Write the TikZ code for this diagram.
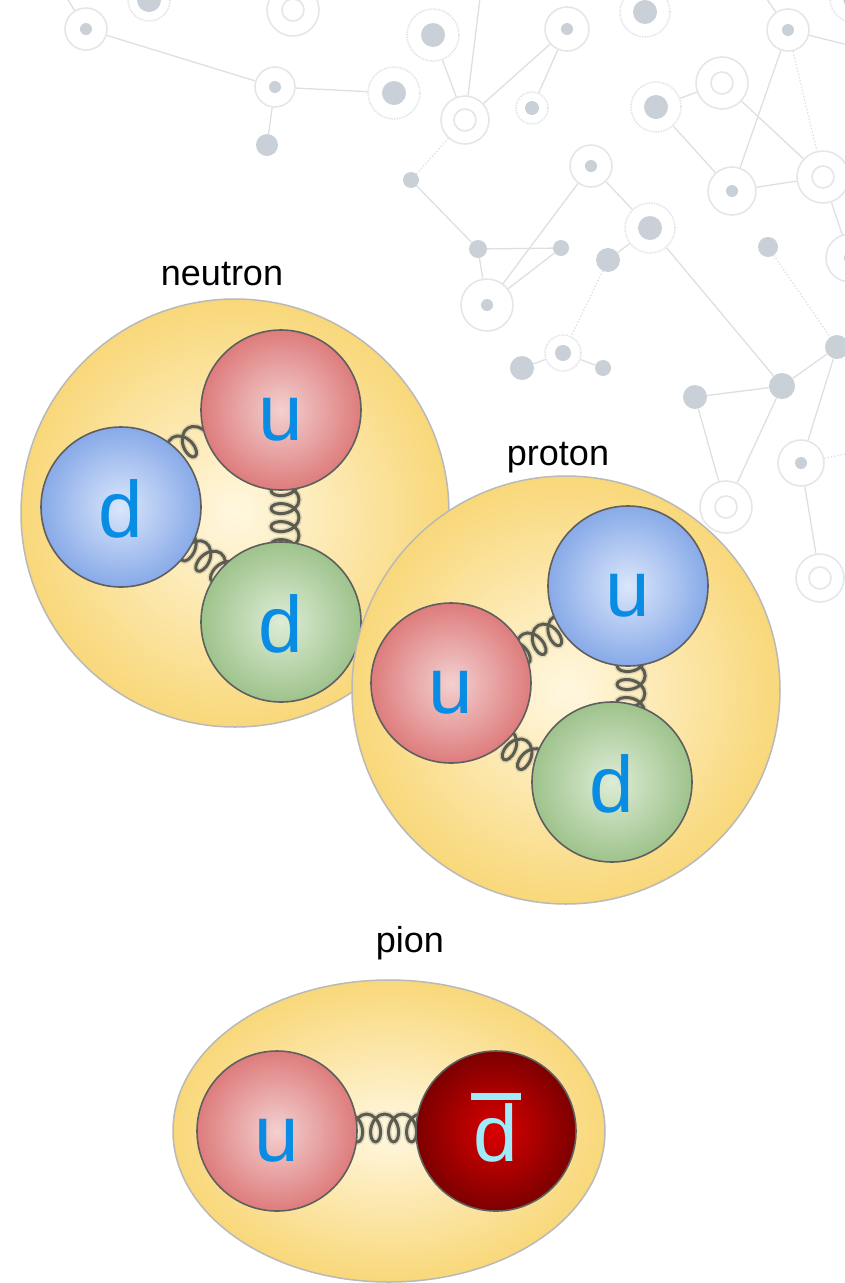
\documentclass[tikz,border=0pt]{standalone}
\usepackage{fontspec}
\setmainfont{Liberation Sans}
\usetikzlibrary{calc,shapes.geometric,decorations.pathmorphing}

\definecolor{hadronedge}{RGB}{249,216,122}
\definecolor{hadroncore}{RGB}{255,247,224}
\definecolor{hadronrim}{RGB}{185,185,185}
\definecolor{quarkrim}{RGB}{95,95,95}
\definecolor{redcore}{RGB}{243,208,208}
\definecolor{rededge}{RGB}{222,124,124}
\definecolor{bluecore}{RGB}{218,230,251}
\definecolor{blueedge}{RGB}{136,170,232}
\definecolor{greencore}{RGB}{222,236,214}
\definecolor{greenedge}{RGB}{158,195,140}
\definecolor{darkcore}{RGB}{218,0,0}
\definecolor{darkedge}{RGB}{125,0,0}
\definecolor{quarktext}{RGB}{8,140,228}
\definecolor{antitext}{RGB}{160,235,250}
\definecolor{gluoncol}{RGB}{92,92,78}
\definecolor{netline}{RGB}{221,223,226}
\definecolor{netrim}{RGB}{228,230,233}
\definecolor{netdot}{RGB}{201,208,215}

\tikzset{
	hadron/.style={draw=hadronrim, line width=1.5pt, inner color=hadroncore, outer color=hadronedge},
	quark/.style={circle, minimum size=160pt, inner sep=0pt, draw=quarkrim, line width=1.6pt},
	redq/.style={quark, inner color=redcore, outer color=rededge},
	blueq/.style={quark, inner color=bluecore, outer color=blueedge},
	greenq/.style={quark, inner color=greencore, outer color=greenedge},
	antiq/.style={quark, inner color=darkcore, outer color=darkedge},
	flavour/.style={anchor=base, inner sep=0pt, text=quarktext, font=\fontsize{80}{96}\selectfont},
	hadname/.style={anchor=base, inner sep=0pt, font=\fontsize{36}{43}\selectfont},
	gluon/.style={draw=gluoncol, line width=3pt, line join=round,
		preaction={draw=gluoncol!60, line width=6pt, opacity=0.3},
		decorate, decoration={coil, amplitude=14pt, segment length=18pt, aspect=0.65}},
	% background network
	net/.style={draw=netline, line width=1.3pt},
	ring/.style={circle, draw=netrim, line width=1.6pt, fill=white, inner sep=0pt, minimum size=42pt,
		path picture={\fill[netdot] (path picture bounding box.center) circle (6pt);}},
	halo/.style={circle, draw=netrim, densely dotted, line width=1.6pt, fill=white, inner sep=0pt, minimum size=50pt,
		path picture={\fill[netdot] (path picture bounding box.center) circle (12pt);}},
	dring/.style={circle, draw=netrim, line width=1.6pt, fill=white, inner sep=0pt, minimum size=50pt,
		path picture={\draw[netrim, line width=1.6pt] (path picture bounding box.center) circle (11pt);}},
	blob/.style={circle, fill=netdot, inner sep=0pt, minimum size=#1},
	blob/.default=18pt
}

\begin{document}
\begin{tikzpicture}[x=1pt, y=-1pt]
	\useasboundingbox (0,0) rectangle (844,1283);

	% network in the background
	\node[ring] (n1) at (86,29) {};
	\node[halo, minimum size=42pt] (n2) at (149,0) {};
	\node[dring, minimum size=52pt] (n3) at (293,10) {};
	\node[ring, minimum size=40pt] (n4) at (275,87) {};
	\node[halo, minimum size=52pt] (n5) at (394,93) {};
	\node[blob=22pt] (n6) at (267,145) {};
	\node[halo, minimum size=52pt] (n7) at (433,35) {};
	\node[dring, minimum size=48pt] (n8) at (465,120) {};
	\node[halo, minimum size=32pt, path picture={\fill[netdot] (path picture bounding box.center) circle (7pt);}] (n9) at (532,108) {};
	\node[ring, minimum size=44pt] (n10) at (567,29) {};
	\node[halo] (n11) at (645,12) {};
	\node[blob=16pt] (n12) at (411,180) {};
	\node[ring] (n13) at (591,166) {};
	\node[blob] (n14) at (478,249) {};
	\node[blob=16pt] (n15) at (561,248) {};
	\node[ring, minimum size=52pt] (n16) at (487,305) {};
	\node[halo] (n17) at (650,228) {};
	\node[blob=24pt] (n18) at (608,260) {};
	\node[halo, minimum size=36pt, path picture={\fill[netdot] (path picture bounding box.center) circle (8pt);}] (n19) at (563,353) {};
	\node[blob=24pt] (n20) at (522,368) {};
	\node[blob=16pt] (n21) at (603,368) {};
	\node[halo] (n22) at (656,107) {};
	\node[dring, minimum size=52pt] (n23) at (722,83) {};
	\node[ring, minimum size=48pt] (n24) at (732,191) {};
	\node[ring] (n25) at (788,30) {};
	\node[dring, minimum size=52pt] (n26) at (823,177) {};
	\node[blob=20pt] (n27) at (768,247) {};
	\node[blob=24pt] (n28) at (837,347) {};
	\node[blob=26pt] (n29) at (782,386) {};
	\node[blob=24pt] (n30) at (695,397) {};
	\node[dring, minimum size=52pt] (n31) at (726,507) {};
	\node[ring, minimum size=46pt] (n32) at (801,463) {};
	\node[dring, minimum size=48pt] (n33) at (820,578) {};
	\node[ring, minimum size=48pt] (n34) at (850,258) {};
	\node[halo] (n35) at (855,-2) {};
	\coordinate (e1) at (62,-10);
	\coordinate (e2) at (336,-8);
	\coordinate (e3) at (481,-10);
	\coordinate (e4) at (860,48);
	\coordinate (e5) at (762,-8);
	\coordinate (e6) at (860,451);
	\foreach \a/\b in {n1/n4, n1/e1, n3/e2, n4/n5, n4/n6, n7/n8, n8/e3, n8/n10, n10/n9,
			n12/n14, n14/n15, n14/n16, n16/n13, n16/n15, n13/n17, n17/n18, n19/n20, n19/n21,
			n22/n23, n22/n24, n23/n26, n24/n26, n25/n24, n25/e4, n25/e5, n17/n29, n29/n28,
			n30/n29, n30/n31, n29/n31, n28/n32, n32/n33, n26/n34}
		\draw[net] (\a) -- (\b);
	\foreach \a/\b in {n8/n12, n18/n19, n25/n26, n27/n28, n32/e6}
		\draw[net, dotted] (\a) -- (\b);

	% neutron: u d d
	\node[hadname] (nname) at (222,285) {neutron};
	\node[hadron, circle, minimum size=428pt] (neutron) at (235,513) {};
	\coordinate (nd) at (121,507);
	\coordinate (nu) at (281,410);
	\coordinate (ng) at (281,622);
	\draw[gluon] ($(nd)+(32,-41)$) -- ($(nu)+(-60,14)$);
	\draw[gluon] ($(nd)+(51,29)$) -- ($(ng)+(-35,-34)$);
	\draw[gluon] ($(nu)+(4,40)$) -- ($(ng)+(4,-37)$);
	\node[blueq] (ndq) at (nd) {};
	\node[redq] (nuq) at (nu) {};
	\node[greenq] (ngq) at (ng) {};
	\node[flavour] (ndt) at ($(nd)+(0,30)$) {d};
	\node[flavour] (nut) at ($(nu)+(0,30)$) {u};
	\node[flavour] (ngt) at ($(ng)+(0,30)$) {d};

	% proton: u u d
	\node[hadname] (pname) at (558,465) {proton};
	\node[hadron, circle, minimum size=428pt] (proton) at (566,690) {};
	\coordinate (pr) at (451,683);
	\coordinate (pb) at (628,586);
	\coordinate (pg) at (612,782);
	\draw[gluon] ($(pr)+(51,-21)$) -- ($(pb)+(-48,32)$);
	\draw[gluon] ($(pb)+(4,40)$) -- ($(pg)+(18,-40)$);
	\draw[gluon] ($(pr)+(26,43)$) -- ($(pg)+(-59,-8)$);
	\node[redq] (prq) at (pr) {};
	\node[blueq] (pbq) at (pb) {};
	\node[greenq] (pgq) at (pg) {};
	\node[flavour] (prt) at ($(pr)+(0,30)$) {u};
	\node[flavour] (pbt) at ($(pb)+(0,30)$) {u};
	\node[flavour] (pgt) at ($(pg)+(0,30)$) {d};

	% pion: u and anti-d
	\node[hadname] (iname) at (410,952) {pion};
	\node[hadron, ellipse, minimum width=432pt, minimum height=302pt] (pion) at (389,1131) {};
	\coordinate (iu) at (277,1131);
	\coordinate (id) at (496,1131);
	\draw[gluon] ($(iu)+(40,-3)$) -- ($(id)+(-40,-3)$);
	\node[redq] (iuq) at (iu) {};
	\node[antiq] (idq) at (id) {};
	\node[flavour] (iut) at ($(iu)+(0,30)$) {u};
	\node[flavour, text=antitext] (idt) at ($(id)+(0,30)$) {d};
	\fill[antitext] ($(idt.north west)+(-3,-10)$) rectangle ($(idt.north east)+(3,-3)$);
\end{tikzpicture}
\end{document}
